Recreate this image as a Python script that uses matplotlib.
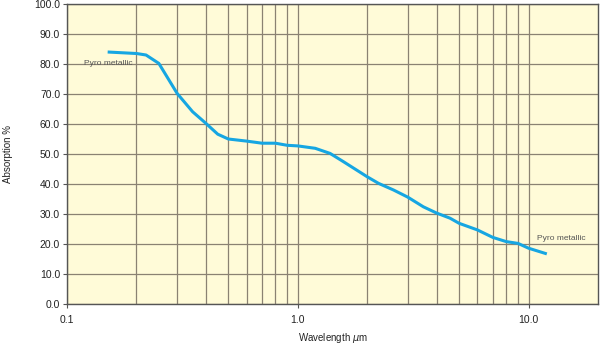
import numpy as np
import matplotlib.pyplot as plt
from matplotlib.ticker import FixedLocator, NullFormatter

plt.rcParams['font.family'] = ['Liberation Sans', 'DejaVu Sans']

# Data
wavelength = [0.15, 0.2, 0.22, 0.25, 0.3, 0.35, 0.4, 0.45, 0.5, 0.6, 0.7, 0.8, 0.9, 1.0,
              1.19, 1.38, 1.58, 1.89, 2.0, 2.24, 2.6, 3.0, 3.5, 4.0, 4.57, 5.0, 6.0,
              7.0, 8.0, 9.0, 10.0, 12.0]
absorption = [84.0, 83.5, 83.0, 80.2, 70.2, 64.1, 60.2, 56.6, 55.0, 54.3, 53.6, 53.6, 52.9, 52.7,
              51.9, 50.2, 47.4, 43.6, 42.4, 40.2, 38.0, 35.6, 32.4, 30.3, 28.6, 26.9, 24.7,
              22.2, 20.8, 20.2, 18.6, 16.7]
yticks = [0, 10, 20, 30, 40, 50, 60, 70, 80, 90, 100]
xticks = [0.1, 1.0, 10.0]
xminor = [0.2, 0.3, 0.4, 0.5, 0.6, 0.7, 0.8, 0.9, 2, 3, 4, 5, 6, 7, 8, 9]

fig = plt.figure(figsize=(6, 3.46), dpi=100)
ax = fig.add_axes([0.1117, 0.1214, 0.885, 0.867])
ax.set_facecolor('#fffbd8')

ax.set_xscale('log')
ax.set_xlim(0.1, 20)
ax.set_ylim(0, 100)

ax.xaxis.set_major_locator(FixedLocator(xticks))
ax.xaxis.set_minor_locator(FixedLocator(xminor))
ax.xaxis.set_minor_formatter(NullFormatter())
ax.set_xticklabels(['%.1f' % v for v in xticks])
ax.set_yticks(yticks)
ax.set_yticklabels(['%.1f' % v for v in yticks])

gcol = '#8a8272'
ax.grid(True, which='major', color=gcol, linewidth=0.9)
ax.grid(True, which='minor', axis='x', color=gcol, linewidth=0.9)
ax.set_axisbelow(True)

ax.plot(wavelength, absorption, color='#16a6e2', linewidth=2.2, solid_capstyle='butt', zorder=3)

ax.text(0.1185, 80.3, 'Pyro metallic', fontsize=6, color='#555555', va='center')
ax.text(10.9, 21.7, 'Pyro metallic', fontsize=6, color='#555555', va='center')

for s in ax.spines.values():
    s.set_color('#555555')
    s.set_linewidth(1.0)

ax.tick_params(which='major', length=3, width=0.8, color='#555555', labelsize=7.5, labelcolor='#222222', pad=2)
ax.tick_params(which='minor', length=0)
ax.tick_params(axis='x', pad=5)

ax.set_xlabel(r'Wavelength $\mu$m', fontsize=7, color='#222222', labelpad=4)
ax.set_ylabel('Absorption %', fontsize=7, color='#222222', labelpad=15)

fig.savefig('out.png', dpi=100)
